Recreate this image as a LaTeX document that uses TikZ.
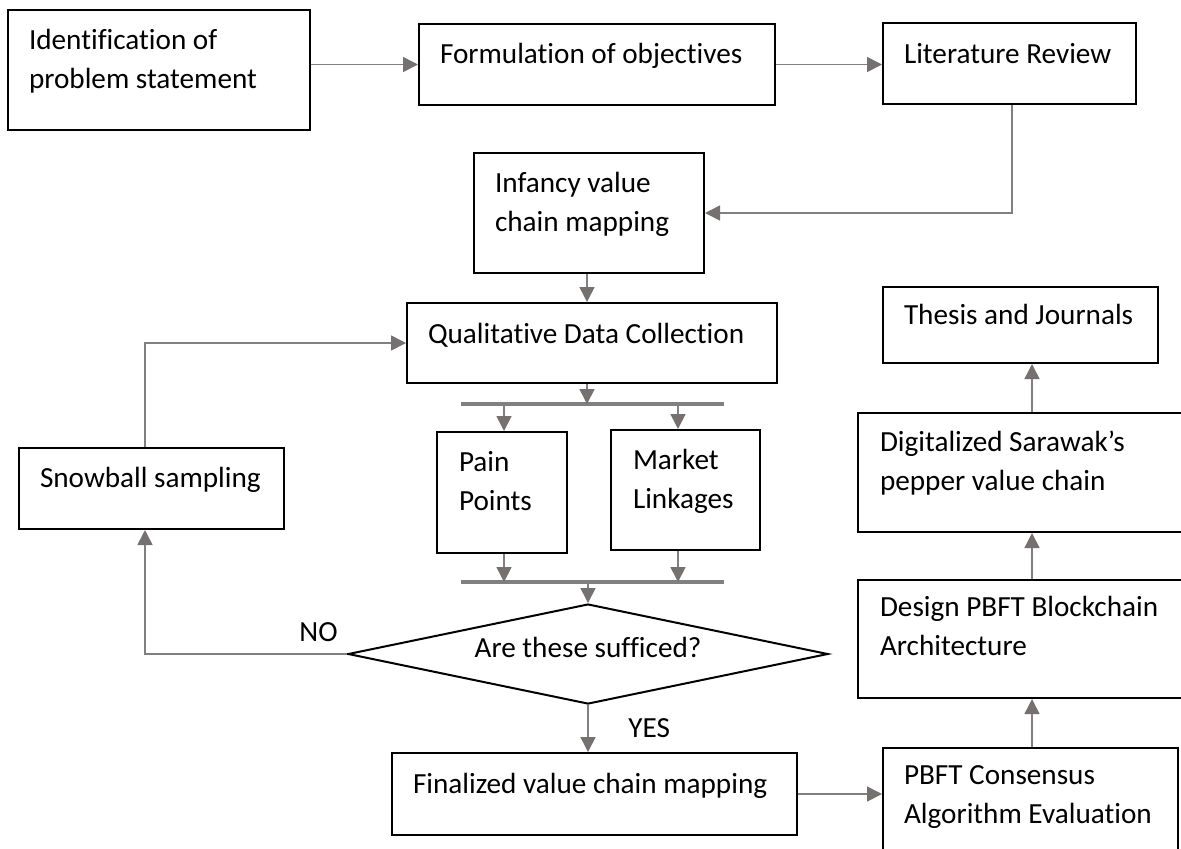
\documentclass[tikz,border=0pt]{standalone}
\usepackage{fontspec}
\setmainfont{Carlito}[Ligatures=NoCommon]
\usetikzlibrary{arrows.meta,shapes.geometric}
\definecolor{linkgray}{HTML}{808080}
\definecolor{tipgray}{HTML}{767171}
\begin{document}
\begin{tikzpicture}[x=0.5pt,y=-0.5pt,
  txt/.style={font=\fontsize{14.6}{19.5}\selectfont},
  box/.style={txt, draw=black, line width=1pt, anchor=north west,
    inner ysep=0pt, inner xsep=10.5pt, align=flush left},
  link/.style={draw=linkgray, line width=0.8pt,
    -{Triangle[length=7.5pt,width=7.5pt,color=tipgray,fill=tipgray]}},
  bar/.style={draw=linkgray, line width=2pt},
  decision/.style={txt, diamond, draw=black, line width=1pt, inner sep=0pt,
    aspect=4.8, minimum width=240pt, minimum height=50pt,
    text height=10pt, text depth=7pt}]
\useasboundingbox (0,0) rectangle (1181,848);
\clip (0,0) rectangle (1181,848);

% process boxes
\node[box, text width=130pt, text height=19.5pt, text depth=40.5pt] (ident) at (7,9)
  {Identification of\\problem statement};
\node[box, text width=157pt, text height=19.5pt, text depth=21pt] (objec) at (418,23)
  {Formulation of objectives};
\node[box, text width=105.5pt, text height=20pt, text depth=20.5pt] (lit) at (882,22)
  {Literature~Review};
\node[box, text width=94pt, text height=19.5pt, text depth=40.5pt] (infancy) at (473,152)
  {Infancy value\\chain mapping};
\node[box, text width=164pt, text height=20pt, text depth=20pt] (qual) at (406,302)
  {Qualitative Data Collection};
\node[box, inner xsep=11pt, text width=43pt, text height=19.5pt, text depth=41pt] (pain) at (436,431)
  {Pain\\Points};
\node[box, inner xsep=11pt, text width=52.5pt, text height=19.5pt, text depth=40.5pt] (market) at (610,429)
  {Market\\Linkages};
\node[box, text width=111.5pt, text height=19.5pt, text depth=21pt] (snow) at (18,447)
  {Snowball~sampling};
\node[box, text width=181.5pt, text height=20pt, text depth=21pt] (final) at (391,752)
  {Finalized value chain mapping};
\node[box, text width=126.5pt, text height=18pt, text depth=36pt] (pbft) at (882,747)
  {PBFT Consensus\\Algorithm~Evaluation};
\node[box, inner xsep=11pt, text width=144.5pt, text height=18pt, text depth=41pt] (design) at (857,579)
  {Design PBFT Blockchain\\Architecture};
\node[box, inner xsep=11pt, text width=144.5pt, text height=19pt, text depth=40.5pt] (digital) at (857,412)
  {Digitalized Sarawak’s\\pepper value chain};
\node[box, text width=116.5pt, text height=18.5pt, text depth=19.5pt] (thesis) at (882,286)
  {Thesis~and~Journals};

% decision
\node[decision] (dec) at (588,654) {Are these sufficed?};

% merge / split bars
\coordinate (barAl) at (461,404);
\coordinate (barAr) at (724,404);
\coordinate (barBl) at (461,582);
\coordinate (barBr) at (724,582);
\draw[bar] (barAl) -- (barAr);
\draw[bar] (barBl) -- (barBr);

% guide coordinates for connector columns
\coordinate (colLit) at (1012,0);
\coordinate (colMid) at (587,0);
\coordinate (colPain) at (504,0);
\coordinate (colMkt) at (678,0);
\coordinate (colSnow) at (145,0);
\coordinate (colRight) at (1032,0);

% connectors
\draw[link] (ident.east |- objec.west) -- (objec.west);
\draw[link] (objec.east) -- (objec.east -| lit.west);
\draw[link] (lit.south -| colLit) |- (infancy.east);
\draw[link] (infancy.south -| colMid) -- (qual.north -| colMid);
\draw[link] (qual.south -| colMid) -- (colMid |- barAl);
\draw[link] (colPain |- barAl) -- (colPain |- pain.north);
\draw[link] (colMkt |- barAl) -- (colMkt |- market.north);
\draw[link] (colPain |- pain.south) -- (colPain |- barBl);
\draw[link] (colMkt |- market.south) -- (colMkt |- barBl);
\draw[link] (dec.north |- barBl) -- (dec.north);
\draw[link] (dec.west) -| (colSnow |- snow.south);
\draw[link] (colSnow |- snow.north) |- (qual.west);
\draw[link] (dec.south) -- (dec.south |- final.north);
\draw[link] (final.east) -- (final.east -| pbft.west);
\draw[link] (colRight |- pbft.north) -- (colRight |- design.south);
\draw[link] (colRight |- design.north) -- (colRight |- digital.south);
\draw[link] (colRight |- digital.north) -- (colRight |- thesis.south);

% branch labels
\node[txt, anchor=base west, inner sep=0pt] (nolbl) at (299,641) {NO};
\node[txt, anchor=base west, inner sep=0pt] (yeslbl) at (628,737) {YES};
\end{tikzpicture}
\end{document}
